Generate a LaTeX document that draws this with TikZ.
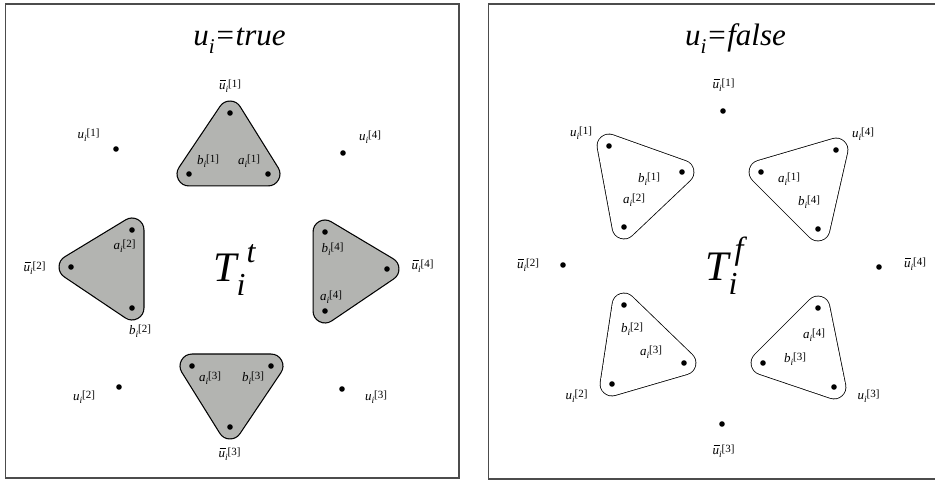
\documentclass[tikz,border=0pt]{standalone}
\usepackage{fontspec}
\setmainfont{Liberation Serif}
\definecolor{fillgray}{RGB}{179,180,177}
\newcommand{\lab}[2]{{\fontsize{13}{13}\selectfont\textit{#1}\raisebox{-3.2pt}{\fontsize{9.5}{9.5}\selectfont\textit{i}}\raisebox{2.2pt}{\fontsize{11}{11}\selectfont[#2]}}}
\newcommand{\labb}[1]{{\fontsize{13}{13}\selectfont\makebox[0pt][l]{\hspace{1.1pt}\raisebox{9pt}{\rule{6.2pt}{0.6pt}}}\textit{u}\raisebox{-3.2pt}{\fontsize{9.5}{9.5}\selectfont\textit{i}}\raisebox{2.2pt}{\fontsize{11}{11}\selectfont[#1]}}}
\tikzset{
  dot/.style={circle,fill=black,inner sep=0pt,minimum size=5.6pt},
  lbl/.style={inner sep=0pt},
  panel/.style={draw=black!70,line width=1.3pt},
  triborder/.style={draw=black,line width=25pt,line join=round},
  trigray/.style={draw=fillgray,fill=fillgray,line width=22.6pt,line join=round},
  triborderthin/.style={draw=black,line width=24.6pt,line join=round},
  triwhite/.style={draw=white,fill=white,line width=23pt,line join=round}
}
\begin{document}
\begin{tikzpicture}[x=1pt,y=-1pt]
\useasboundingbox (0,0) rectangle (935,486);
\clip (0,0) rectangle (935,486);
\draw[panel] (5.5,4) rectangle (459,478);
\draw[panel] (488.5,4) rectangle (945,479);

% ---------- left panel ----------
\coordinate (L1a) at (230,113); \coordinate (L1b) at (189,174); \coordinate (L1c) at (268,174);
\coordinate (L2a) at (132,230); \coordinate (L2b) at (71,267);  \coordinate (L2c) at (132,308);
\coordinate (L4a) at (325,232); \coordinate (L4b) at (387,269); \coordinate (L4c) at (325,311);
\coordinate (L3a) at (192,366); \coordinate (L3b) at (271,366); \coordinate (L3c) at (230,427);
\foreach \t in {L1,L2,L3,L4}{
  \draw[triborder] (\t a) -- (\t b) -- (\t c) -- cycle;
  \draw[trigray] (\t a) -- (\t b) -- (\t c) -- cycle;
}
\foreach \t in {L1,L2,L3,L4}{
  \foreach \v in {a,b,c}{ \node[dot] (d\t\v) at (\t\v) {}; }
}
\node[dot] (Lu1) at (116,149) {};
\node[dot] (Lu4) at (343,153) {};
\node[dot] (Lu2) at (119,387) {};
\node[dot] (Lu3) at (342,389) {};

\node[anchor=base] (title1) at (239.5,46) {\fontsize{31}{31}\selectfont\itshape u\raisebox{-8pt}{\fontsize{21}{21}\selectfont i}=true};
\node[anchor=base west,inner sep=0pt] (Tt) at (213,282) {\fontsize{42}{42}\selectfont\itshape T\rlap{\hspace{10pt}\raisebox{19pt}{\fontsize{32}{32}\selectfont t}}\raisebox{-14pt}{\fontsize{32}{32}\selectfont i}};

\node[lbl] (lub1) at (230,86) {\labb{1}};
\node[lbl] (lb1) at (208,161) {\lab{b}{1}};
\node[lbl] (la1) at (249,161) {\lab{a}{1}};
\node[lbl] (lu1) at (88.5,135) {\lab{u}{1}};
\node[lbl] (lu4) at (370,137) {\lab{u}{4}};
\node[lbl] (la2) at (124.5,246) {\lab{a}{2}};
\node[lbl] (lub2) at (34.5,268) {\labb{2}};
\node[lbl] (lb2) at (140,331) {\lab{b}{2}};
\node[lbl] (lb4) at (332.5,249) {\lab{b}{4}};
\node[lbl] (lub4) at (422.5,266) {\labb{4}};
\node[lbl] (la4) at (331,297) {\lab{a}{4}};
\node[lbl] (la3) at (210,378) {\lab{a}{3}};
\node[lbl] (lb3) at (253,378) {\lab{b}{3}};
\node[lbl] (lub3) at (229.5,454) {\labb{3}};
\node[lbl] (lu2) at (84,397) {\lab{u}{2}};
\node[lbl] (lu3) at (376,397) {\lab{u}{3}};

% ---------- right panel ----------
\coordinate (R1a) at (609,146); \coordinate (R1b) at (682,172); \coordinate (R1c) at (624,227);
\coordinate (R4a) at (836,150); \coordinate (R4b) at (761,172); \coordinate (R4c) at (818,229);
\coordinate (R2a) at (624,305); \coordinate (R2b) at (684,363); \coordinate (R2c) at (612,384);
\coordinate (R3a) at (818,308); \coordinate (R3b) at (763,363); \coordinate (R3c) at (834,387);
\foreach \t in {R1,R2,R3,R4}{
  \draw[triborderthin] (\t a) -- (\t b) -- (\t c) -- cycle;
  \draw[triwhite] (\t a) -- (\t b) -- (\t c) -- cycle;
}
\foreach \t in {R1,R2,R3,R4}{
  \foreach \v in {a,b,c}{ \node[dot] (d\t\v) at (\t\v) {}; }
}
\node[dot] (Rub1) at (723,111) {};
\node[dot] (Rub2) at (563,265) {};
\node[dot] (Rub4) at (879,267) {};
\node[dot] (Rub3) at (722,424) {};

\node[anchor=base] (title2) at (735.5,46) {\fontsize{31}{31}\selectfont\itshape u\raisebox{-8pt}{\fontsize{21}{21}\selectfont i}=false};
\node[anchor=base west,inner sep=0pt] (Tf) at (705,281) {\fontsize{42}{42}\selectfont\itshape T\rlap{\hspace{6pt}\raisebox{21pt}{\fontsize{32}{32}\selectfont f}}\raisebox{-14pt}{\fontsize{32}{32}\selectfont i}};

\node[lbl] (rub1) at (723.5,85) {\labb{1}};
\node[lbl] (ru1) at (581,133) {\lab{u}{1}};
\node[lbl] (ru4) at (863,134) {\lab{u}{4}};
\node[lbl] (rb1) at (649,179) {\lab{b}{1}};
\node[lbl] (ra2) at (634,200) {\lab{a}{2}};
\node[lbl] (ra1) at (789,179) {\lab{a}{1}};
\node[lbl] (rb4) at (809,202) {\lab{b}{4}};
\node[lbl] (rub2) at (528,265) {\labb{2}};
\node[lbl] (rub4) at (915,264) {\labb{4}};
\node[lbl] (rb2) at (632,329) {\lab{b}{2}};
\node[lbl] (ra3) at (651,352) {\lab{a}{3}};
\node[lbl] (ru2) at (576.5,396) {\lab{u}{2}};
\node[lbl] (ra4) at (814,335) {\lab{a}{4}};
\node[lbl] (rb3) at (795,359) {\lab{b}{3}};
\node[lbl] (ru3) at (868.5,396) {\lab{u}{3}};
\node[lbl] (rub3) at (723.5,451) {\labb{3}};
\end{tikzpicture}
\end{document}
